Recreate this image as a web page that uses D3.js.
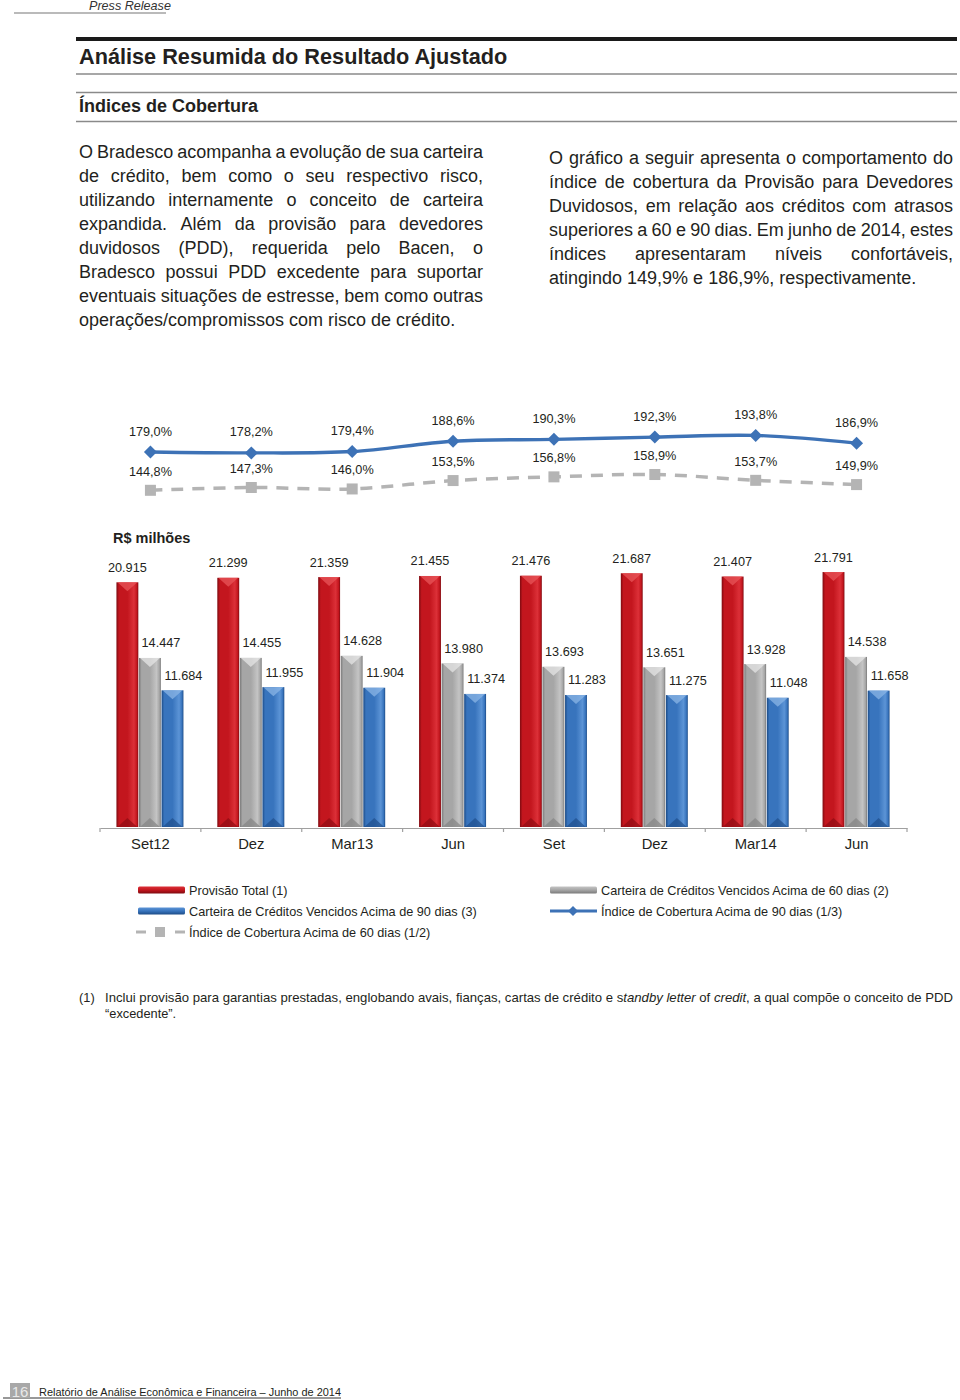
<!DOCTYPE html>
<html><head><meta charset="utf-8">
<script src="https://cdn.jsdelivr.net/npm/d3@7"></script>
<style>
html,body{margin:0;padding:0;background:#fff;}
svg{display:block;font-family:"Liberation Sans",Arial,Helvetica,sans-serif;}
</style></head>
<body>
<svg id="page" width="960" height="1400"></svg>
<script>
// ---------------- DATA ----------------
const categories = ["Set12","Dez","Mar13","Jun","Set","Dez","Mar14","Jun"];
const provisaoTotal = [20915, 21299, 21359, 21455, 21476, 21687, 21407, 21791];
const vencidos60 = [14447, 14455, 14628, 13980, 13693, 13651, 13928, 14538];
const vencidos90 = [11684, 11955, 11904, 11374, 11283, 11275, 11048, 11658];
const indice90 = [179.0, 178.2, 179.4, 188.6, 190.3, 192.3, 193.8, 186.9];
const indice60 = [144.8, 147.3, 146.0, 153.5, 156.8, 158.9, 153.7, 149.9];
const seriesNames = ["Provisão Total (1)", "Carteira de Créditos Vencidos Acima de 60 dias (2)", "Carteira de Créditos Vencidos Acima de 90 dias (3)"];
const lineNames = ["Índice de Cobertura Acima de 90 dias (1/3)", "Índice de Cobertura Acima de 60 dias (1/2)"];

const leftPara = [
 "O Bradesco acompanha a evolução de sua carteira",
 "de crédito, bem como o seu respectivo risco,",
 "utilizando internamente o conceito de carteira",
 "expandida. Além da provisão para devedores",
 "duvidosos (PDD), requerida pelo Bacen, o",
 "Bradesco possui PDD excedente para suportar",
 "eventuais situações de estresse, bem como outras",
 "operações/compromissos com risco de crédito."
];
const rightPara = [
 "O gráfico a seguir apresenta o comportamento do",
 "índice de cobertura da Provisão para Devedores",
 "Duvidosos, em relação aos créditos com atrasos",
 "superiores a 60 e 90 dias. Em junho de 2014, estes",
 "índices apresentaram níveis confortáveis,",
 "atingindo 149,9% e 186,9%, respectivamente."
];

// ---------------- SETUP ----------------
const svg = d3.select("#page");
svg.append("rect").attr("width",960).attr("height",1400).attr("fill","#fff");
const loc = d3.formatLocale({decimal:",", thousands:".", grouping:[3], currency:["R$",""]});
const fmtInt = loc.format(",d");
const fmtPct = v => loc.format(".1f")(v) + "%";
const textColor = "#231f20";

// ---------------- HEADER ----------------
svg.append("line").attr("x1",14).attr("x2",166).attr("y1",13).attr("y2",13).attr("stroke","#777").attr("stroke-width",1.2);
svg.append("text").attr("x",89).attr("y",10).attr("font-size",12.6).attr("font-style","italic").attr("fill","#333").text("Press Release");

svg.append("rect").attr("x",76).attr("y",37).attr("width",881).attr("height",4).attr("fill","#1a1a1a");
svg.append("text").attr("x",79).attr("y",63.5).attr("font-size",21.7).attr("font-weight","bold").attr("fill",textColor).text("Análise Resumida do Resultado Ajustado");
svg.append("line").attr("x1",76).attr("x2",957).attr("y1",74).attr("y2",74).attr("stroke","#8a8a8a").attr("stroke-width",1.5);
svg.append("line").attr("x1",76).attr("x2",957).attr("y1",92.5).attr("y2",92.5).attr("stroke","#8a8a8a").attr("stroke-width",1.5);
svg.append("text").attr("x",79).attr("y",111.5).attr("font-size",18).attr("font-weight","bold").attr("fill",textColor).text("Índices de Cobertura");
svg.append("line").attr("x1",76).attr("x2",957).attr("y1",121.5).attr("y2",121.5).attr("stroke","#8a8a8a").attr("stroke-width",1.5);

// ---------------- PARAGRAPHS (justified) ----------------
function justifyLine(g, text, x, y, width, justify){
  if(!justify){ g.append("text").attr("x",x).attr("y",y).text(text); return; }
  const words = text.split(" ");
  const nodes = words.map(w => g.append("text").attr("x",0).attr("y",y).text(w));
  const widths = nodes.map(n => n.node().getComputedTextLength());
  const gap = (width - d3.sum(widths)) / (words.length - 1);
  let cx = x;
  nodes.forEach((n,i)=>{ n.attr("x",cx); cx += widths[i] + gap; });
}
const pg = svg.append("g").attr("font-size",18).attr("fill",textColor);
leftPara.forEach((l,i)=> justifyLine(pg, l, 79, 158 + i*24, 404, i < leftPara.length-1));
rightPara.forEach((l,i)=> justifyLine(pg, l, 549, 164 + i*24, 404, i < rightPara.length-1));

// ---------------- SCALES ----------------
const idx = d3.range(categories.length);
const x = d3.scaleBand().domain(idx).range([100, 907]).padding(0);
const inner = d3.scaleBand().domain([0,1,2]).range([0, 67]).paddingInner(0.03);
const groupOffset = b => x(b) + x.bandwidth()/2 - 34;
const yBar = d3.scaleLinear().domain([0, 25000]).range([827, 827 - 25*11.7]);
const yPct = d3.scaleLinear().domain([140, 200]).range([452 + 39*1.12, 452 - 21*1.12]);
const cx = i => x(i) + x.bandwidth()/2;

// ---------------- GRADIENTS ----------------
const defs = svg.append("defs");
const palettes = [
  {dark:"#7e0a10", main:"#c3161e", light:"#dc3038", tri:"#e8555a", bot:"#8f0c12"},
  {dark:"#7a7a7a", main:"#a6a6a6", light:"#c4c4c4", tri:"#e6e6e6", bot:"#858585"},
  {dark:"#1c4b86", main:"#3874bd", light:"#5c94d6", tri:"#8bb6e6", bot:"#1f4f8c"}
];
palettes.forEach((p,k)=>{
  const gr = defs.append("linearGradient").attr("id","bar"+k).attr("x1","0").attr("x2","1").attr("y1","0").attr("y2","0");
  [[0,p.dark],[0.12,p.main],[0.5,p.main],[0.8,p.light],[0.93,p.main],[1,p.dark]].forEach(s=>gr.append("stop").attr("offset",s[0]).attr("stop-color",s[1]));
  const lg = defs.append("linearGradient").attr("id","leg"+k).attr("x1","0").attr("x2","0").attr("y1","0").attr("y2","1");
  [[0,p.light],[0.5,p.main],[1,p.dark]].forEach(s=>lg.append("stop").attr("offset",s[0]).attr("stop-color",s[1]));
});

// ---------------- BARS ----------------
const barSeries = [provisaoTotal, vencidos60, vencidos90];
const bars = svg.append("g");
barSeries.forEach((vals,k)=>{
  const p = palettes[k];
  vals.forEach((v,i)=>{
    const bx = groupOffset(i) + inner(k), bw = inner.bandwidth();
    const top = yBar(v), base = yBar(0);
    bars.append("rect").attr("x",bx).attr("y",top).attr("width",bw).attr("height",base-top).attr("fill",`url(#bar${k})`);
    bars.append("path").attr("d",`M${bx+1},${top} L${bx+bw-1},${top} L${bx+bw/2},${top+9} Z`).attr("fill",p.tri).attr("opacity",0.75);
    bars.append("path").attr("d",`M${bx+1},${base} L${bx+bw-1},${base} L${bx+bw/2},${base-9} Z`).attr("fill",p.bot).attr("opacity",0.7);
    const lx = k === 0 ? bx + bw/2 : bx + bw/2 + 11;
    bars.append("text").attr("x",lx).attr("y",top - 10.5).attr("text-anchor","middle").attr("font-size",12.7).attr("fill",textColor).text(fmtInt(v));
  });
});

// ---------------- CATEGORY AXIS ----------------
const axisG = svg.append("g").attr("transform","translate(0,828)");
axisG.call(d3.axisBottom(x).tickValues([]).tickSizeOuter(0));
axisG.select(".domain").attr("stroke","#a0a0a0").attr("stroke-width",1.2);
d3.range(categories.length+1).forEach(i=>{
  const tx = i < categories.length ? x(i) : x(categories.length-1) + x.bandwidth();
  axisG.append("line").attr("x1",tx).attr("x2",tx).attr("y1",0).attr("y2",4).attr("stroke","#a0a0a0").attr("stroke-width",1.2);
});
idx.forEach(i=>{
  axisG.append("text").attr("x",cx(i)).attr("y",20.5).attr("text-anchor","middle").attr("font-size",14.8).attr("fill",textColor).text(categories[i]);
});

svg.append("text").attr("x",113).attr("y",543).attr("font-size",14.5).attr("font-weight","bold").attr("fill",textColor).text("R$ milhões");

// ---------------- LINES ----------------
const blue = "#3d72b6", grayL = "#b4b4b4";
const lineGen = d3.line().x((d,i)=>cx(i)).y(d=>yPct(d)).curve(d3.curveCatmullRom.alpha(0.5));
svg.append("path").attr("d",lineGen(indice60)).attr("fill","none").attr("stroke",grayL).attr("stroke-width",3.5).attr("stroke-dasharray","12,9");
indice60.forEach((v,i)=>{
  svg.append("rect").attr("x",cx(i)-5.5).attr("y",yPct(v)-5.5).attr("width",11).attr("height",11).attr("fill",grayL);
  svg.append("text").attr("x",cx(i)).attr("y",yPct(v)-14.5).attr("text-anchor","middle").attr("font-size",12.7).attr("fill",textColor).text(fmtPct(v));
});
svg.append("path").attr("d",lineGen(indice90)).attr("fill","none").attr("stroke",blue).attr("stroke-width",3.4);
indice90.forEach((v,i)=>{
  const px = cx(i), py = yPct(v);
  svg.append("path").attr("d",`M${px},${py-6.5} L${px+6.5},${py} L${px},${py+6.5} L${px-6.5},${py} Z`).attr("fill",blue);
  svg.append("text").attr("x",px).attr("y",py-16.5).attr("text-anchor","middle").attr("font-size",12.7).attr("fill",textColor).text(fmtPct(v));
});

// ---------------- LEGEND ----------------
const lg = svg.append("g").attr("font-size",12.7).attr("fill",textColor);
function legendSwatch(x0, y0, k, label){
  lg.append("rect").attr("x",x0).attr("y",y0-3.5).attr("width",47).attr("height",7).attr("rx",1.5).attr("fill",`url(#leg${k})`);
  lg.append("text").attr("x",x0+51).attr("y",y0+4.5).text(label);
}
legendSwatch(138, 890, 0, seriesNames[0]);
legendSwatch(550, 890, 1, seriesNames[1]);
legendSwatch(138, 911, 2, seriesNames[2]);
lg.append("line").attr("x1",550).attr("x2",597).attr("y1",911).attr("y2",911).attr("stroke",blue).attr("stroke-width",3);
lg.append("path").attr("d","M573,906 L578,911 L573,916 L568,911 Z").attr("fill",blue);
lg.append("text").attr("x",601).attr("y",915.5).text(lineNames[0]);
lg.append("line").attr("x1",136).attr("x2",146).attr("y1",932).attr("y2",932).attr("stroke",grayL).attr("stroke-width",3);
lg.append("rect").attr("x",155).attr("y",927).attr("width",10).attr("height",10).attr("fill",grayL);
lg.append("line").attr("x1",175).attr("x2",185).attr("y1",932).attr("y2",932).attr("stroke",grayL).attr("stroke-width",3);
lg.append("text").attr("x",189).attr("y",936.5).text(lineNames[1]);

// ---------------- FOOTNOTE ----------------
const fn = svg.append("g").attr("font-size",12.8).attr("fill",textColor).attr("font-family","'Liberation Sans Narrow','Arial Narrow','Liberation Sans',Arial,sans-serif");
fn.append("text").attr("x",79).attr("y",1002).text("(1)");
const fnText = fn.append("text").attr("x",105).attr("y",1002).attr("textLength",848).attr("lengthAdjust","spacingAndGlyphs");
[["Inclui provisão para garantias prestadas, englobando avais, fianças, cartas de crédito e s",false],
 ["tandby letter",true],[" of ",false],["credit",true],[", a qual compõe o conceito de PDD",false]]
 .forEach(s=>fnText.append("tspan").attr("font-style",s[1]?"italic":"normal").text(s[0]));
fn.append("text").attr("x",105).attr("y",1018).text("“excedente”.");

// ---------------- FOOTER ----------------
svg.append("line").attr("x1",3).attr("x2",341).attr("y1",1398).attr("y2",1398).attr("stroke","#333").attr("stroke-width",1);
svg.append("rect").attr("x",10).attr("y",1383).attr("width",20).attr("height",15).attr("fill","#a8a8a8");
svg.append("text").attr("x",20).attr("y",1397).attr("text-anchor","middle").attr("font-size",15).attr("fill","#e8e8e8").text("16");
svg.append("text").attr("x",39).attr("y",1396).attr("font-size",11).attr("textLength",302).attr("lengthAdjust","spacingAndGlyphs").attr("fill",textColor).text("Relatório de Análise Econômica e Financeira – Junho de 2014");
</script>
</body></html>
